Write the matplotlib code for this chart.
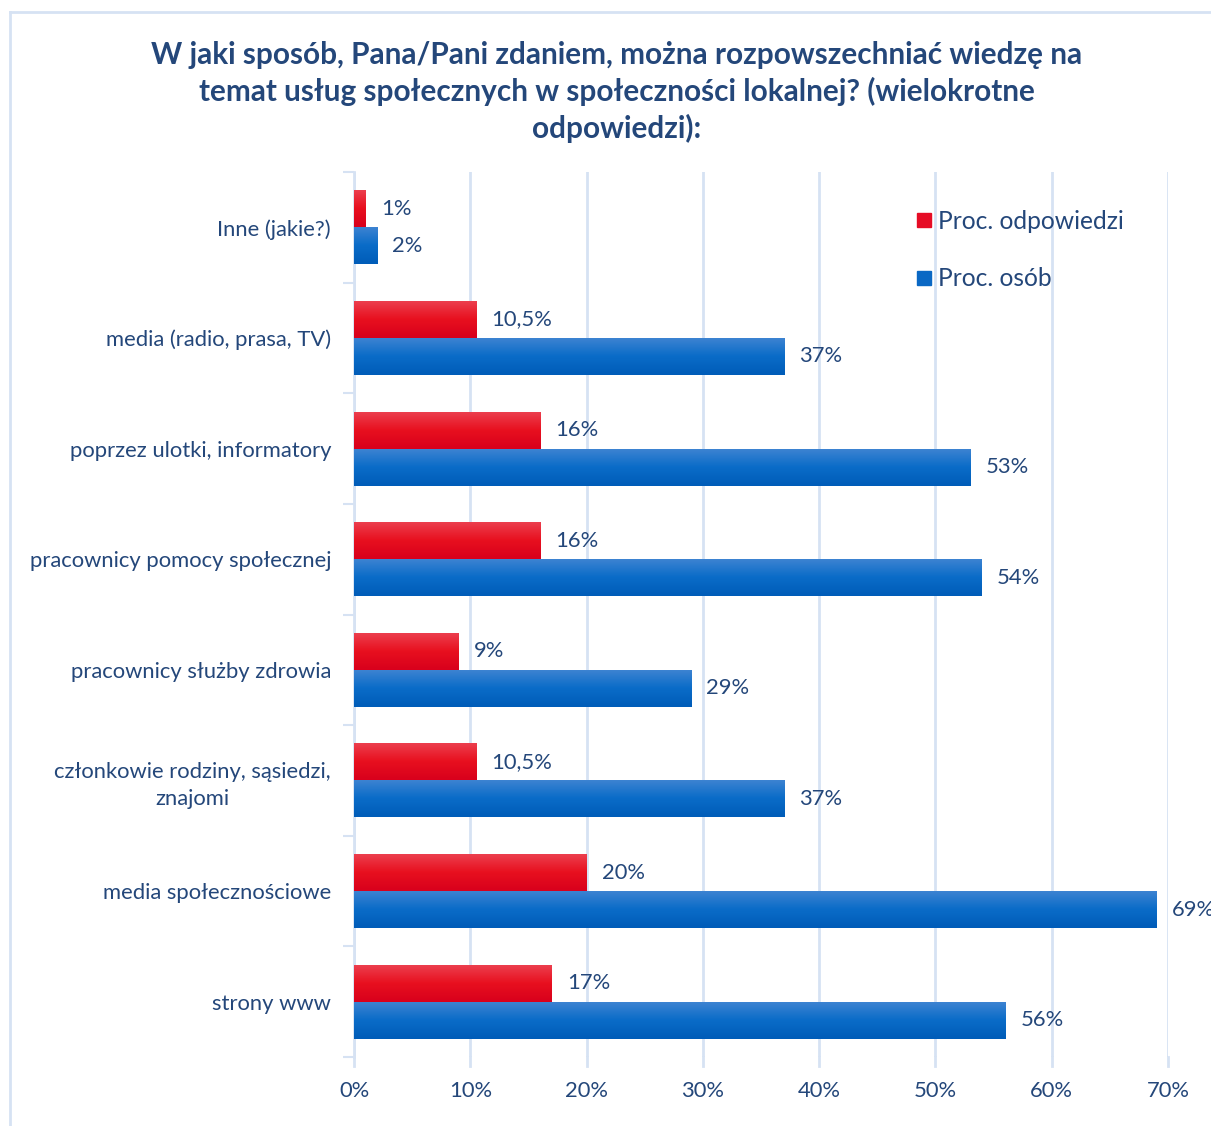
import matplotlib
matplotlib.use("Agg")
import matplotlib.pyplot as plt
import numpy as np
from matplotlib.colors import LinearSegmentedColormap
from matplotlib.lines import Line2D

categories = ["Inne (jakie?)", "media (radio, prasa, TV)", "poprzez ulotki, informatory",
              "pracownicy pomocy społecznej", "pracownicy służby zdrowia",
              "członkowie rodziny, sąsiedzi,\nznajomi", "media społecznościowe", "strony www"]
proc_odpowiedzi = [1, 10.5, 16, 16, 9, 10.5, 20, 17]
proc_osob = [2, 37, 53, 54, 29, 37, 69, 56]
series_names = ["Proc. odpowiedzi", "Proc. osób"]
xticks = [0, 10, 20, 30, 40, 50, 60, 70]

TXT = "#24477a"
GRID = "#d6e2f3"
FS = 15.8
plt.rcParams['font.family'] = ['Lato', 'DejaVu Sans']

fig = plt.figure(figsize=(12.11, 11.26), dpi=100)
ax = fig.add_axes([354/1211, 1-1057/1126, (1168-354)/1211, (1057-172)/1126])

n = len(categories)
y = np.arange(n)[::-1]  # first category on top
h = 0.335
red_bars = ax.barh(y + h/2, proc_odpowiedzi, height=h, color="#e60c25", zorder=2)
blue_bars = ax.barh(y - h/2, proc_osob, height=h, color="#0a68c4", zorder=2)

red_cmap = LinearSegmentedColormap.from_list("r", ["#d8001c", "#e8101f", "#ec4150"])
blue_cmap = LinearSegmentedColormap.from_list("b", ["#005cb8", "#0a6cc8", "#3f84d2"])
grad = np.linspace(0, 1, 64).reshape(-1, 1)
for bars, cmap in ((red_bars, red_cmap), (blue_bars, blue_cmap)):
    for p in bars:
        x0, y0 = p.get_x(), p.get_y()
        w, hh = p.get_width(), p.get_height()
        im = ax.imshow(grad, cmap=cmap, aspect="auto", origin="lower",
                       extent=(x0, x0 + w, y0, y0 + hh), zorder=3, interpolation="bilinear")
        im.set_clip_path(p)

def fmt(v):
    s = f"{v:g}".replace(".", ",")
    return s + "%"

for bars, vals in ((red_bars, proc_odpowiedzi), (blue_bars, proc_osob)):
    for p, v in zip(bars, vals):
        ax.text(p.get_width() + 1.3, p.get_y() + p.get_height()/2, fmt(v),
                va="center", ha="left", fontsize=FS, color=TXT, zorder=4, clip_on=False)

ax.set_xlim(0, 70)
ax.set_ylim(-0.5, n - 0.5)
ax.set_xticks(xticks)
ax.set_xticklabels([f"{t}%" for t in xticks], fontsize=FS, color=TXT)
ax.set_yticks(y)
ax.set_yticklabels(categories, fontsize=FS, color=TXT, ha="right", multialignment="center",
                   linespacing=1.4)
ax.tick_params(axis="y", length=0, pad=16.5)
ax.set_yticks(np.arange(-0.5, n, 1.0), minor=True)
ax.tick_params(axis="y", which="minor", length=8, color=GRID, width=1.5)
ax.tick_params(axis="x", length=0, pad=17)
ax.xaxis.grid(True, color=GRID, linewidth=2)
ax.set_axisbelow(True)
for s in ("top", "right", "bottom"):
    ax.spines[s].set_visible(False)
ax.spines["left"].set_color(GRID)
ax.spines["left"].set_linewidth(2)
# tick marks below axis at grid lines
for t in xticks:
    ax.plot([t, t], [-0.5, -0.5 - 0.08], color=GRID, lw=2, clip_on=False, zorder=1)

handles = [Line2D([], [], marker="s", linestyle="none", markersize=10, color="#e60c25"),
           Line2D([], [], marker="s", linestyle="none", markersize=10, color="#0a68c4")]
ax.legend(handles, series_names, loc="upper left", bbox_to_anchor=(0.661, 0.982),
          frameon=False, fontsize=17.7, labelcolor=TXT, handletextpad=0.15,
          labelspacing=1.4, handlelength=0.8)

fig.text(617/1211, 1-92/1126,
         "W jaki sposób, Pana/Pani zdaniem, można rozpowszechniać wiedzę na\n"
         "temat usług społecznych w społeczności lokalnej? (wielokrotne\n"
         "odpowiedzi):", ha="center", va="center", fontsize=21.4, fontweight="bold",
         color=TXT, linespacing=1.33)

# chart frame
fig.add_artist(Line2D([10/1211, 10/1211], [0, 1-12/1126], color=GRID, lw=2, transform=fig.transFigure))
fig.add_artist(Line2D([10/1211, 1], [1-12/1126, 1-12/1126], color=GRID, lw=2, transform=fig.transFigure))

fig.savefig("out.png", dpi=100)
